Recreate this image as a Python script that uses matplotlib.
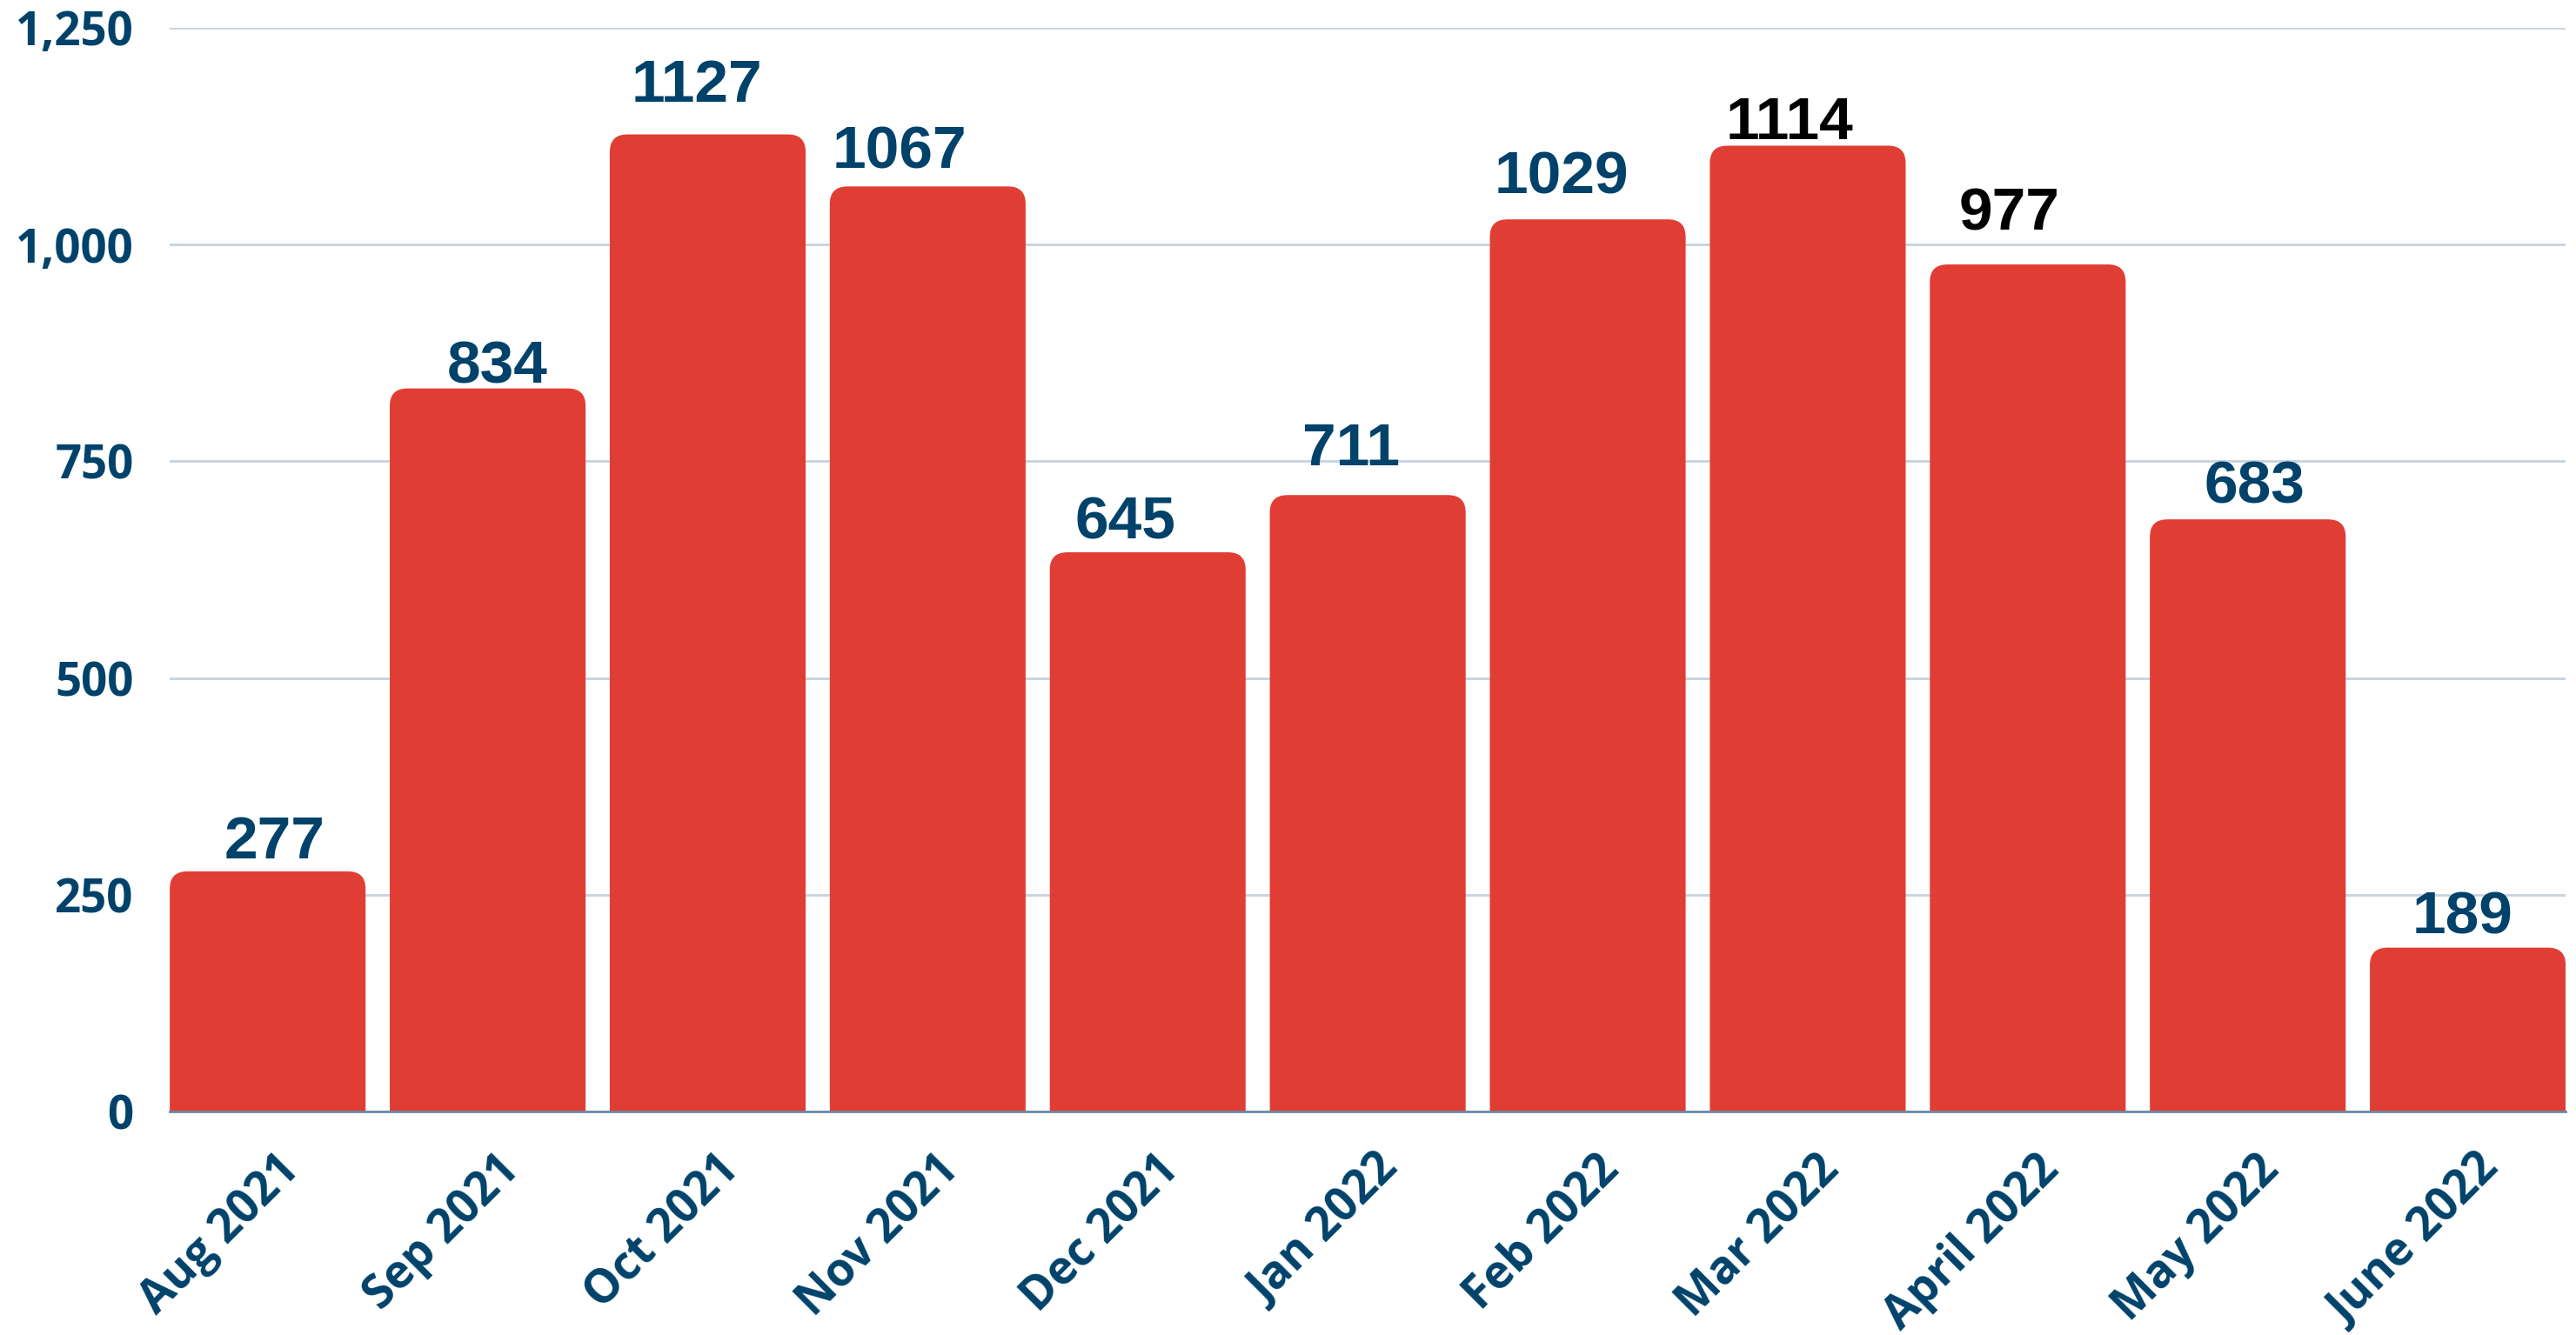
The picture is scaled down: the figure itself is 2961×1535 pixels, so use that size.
import matplotlib.pyplot as plt
from matplotlib.patches import FancyBboxPatch
from matplotlib.ticker import FuncFormatter
from matplotlib.transforms import ScaledTranslation

months = ['Aug 2021', 'Sep 2021', 'Oct 2021', 'Nov 2021', 'Dec 2021', 'Jan 2022',
          'Feb 2022', 'Mar 2022', 'April 2022', 'May 2022', 'June 2022']
counts = [277, 834, 1127, 1067, 645, 711, 1029, 1114, 977, 683, 189]
label_colors = ['#00426a'] * 7 + ['#000000', '#000000'] + ['#00426a'] * 2
# the value labels are hand placed in the original: offset from bar top centre (px)
label_dx = [8, 11, -13, -32, -26, -19, -30, -21, -21, 8, -6]
label_gaps = [15, 6, 38, 21, 16, 34, 30, 8, 40, 19, 16]

navy = '#00426a'
red = '#e03e34'

fig = plt.figure(figsize=(29.61, 15.35), dpi=100)
ax = fig.add_axes([0.0659, 0.1674, 0.9301, 0.8118])

x = list(range(len(months)))
bars = ax.bar(x, counts, width=0.89, color=red, zorder=2)

# swap plain bars for ones with rounded tops
for b in bars:
    bx, bw, bh = b.get_x(), b.get_width(), b.get_height()
    p = FancyBboxPatch((bx, -60), bw, bh + 60,
                       boxstyle='round,pad=0,rounding_size=0.08',
                       mutation_aspect=250, fc=red, ec='none', zorder=2)
    ax.add_patch(p)
    b.remove()

for xi, v, c, dx, g in zip(x, counts, label_colors, label_dx, label_gaps):
    ax.annotate(str(v), (xi, v), xytext=(dx * 0.72, g * 0.72),
                textcoords='offset points', ha='center', va='baseline',
                fontsize=50, fontweight='bold', color=c, family='Liberation Sans')

ax.set_xlim(-0.445, len(months) - 1 + 0.445)
ax.set_ylim(0, 1250)
ax.set_yticks([0, 250, 500, 750, 1000, 1250])
ax.yaxis.set_major_formatter(FuncFormatter(lambda v, p: f'{int(v):,}'))
ax.grid(axis='y', color='#c5d3de', linewidth=2, zorder=0)
ax.set_axisbelow(True)

ax.set_xticks(x)
ax.set_xticklabels(months, rotation=45, ha='right', rotation_mode='anchor')

ax.tick_params(axis='both', length=0)
ax.tick_params(axis='y', pad=30)
ax.tick_params(axis='x', pad=22)

for lab in ax.get_yticklabels() + ax.get_xticklabels():
    lab.set_family('Open Sans')
    lab.set_fontweight('bold')
    lab.set_fontsize(38)
    lab.set_color(navy)

shift = ScaledTranslation(9 / 100, -9 / 100, fig.dpi_scale_trans)
for lab in ax.get_xticklabels():
    lab.set_transform(lab.get_transform() + shift)

for s in ['top', 'right', 'left']:
    ax.spines[s].set_visible(False)
ax.spines['bottom'].set_color('#6a8aa5')
ax.spines['bottom'].set_linewidth(2)
ax.spines['bottom'].set_zorder(3)

fig.savefig('out.png', dpi=100)
